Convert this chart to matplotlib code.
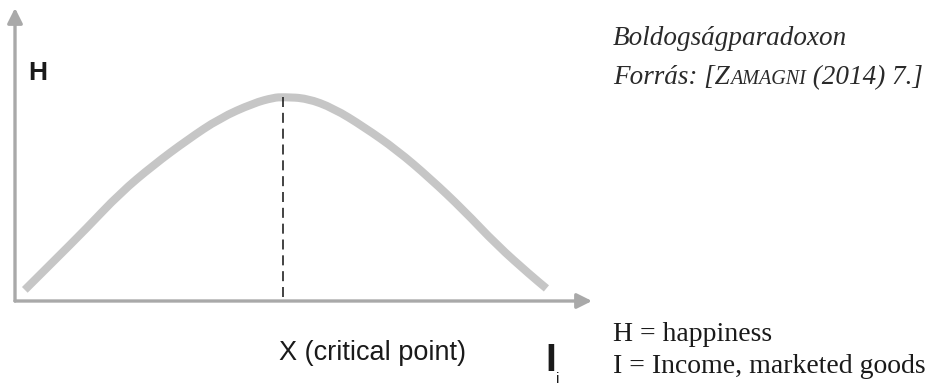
import numpy as np
import matplotlib
matplotlib.use('Agg')
import matplotlib.pyplot as plt
from matplotlib.path import Path
from matplotlib.patches import PathPatch

# happiness curve (income, happiness), both 0..100
income = [1.7, 6.6, 12.4, 18.2, 24.0, 29.8, 35.5, 41.3, 44.8, 46.5,
          50.6, 55.2, 60.4, 66.2, 71.9, 77.7, 83.5, 89.3, 92.1]
happiness = [3.8, 13.4, 24.8, 36.8, 46.4, 54.9, 62.4, 67.5, 69.4, 69.6,
             69.2, 65.8, 59.5, 51.5, 41.9, 31.1, 19.1, 8.9, 4.3]

title_txt = "Boldogságparadoxon"
source_parts = ["Forrás: [Z", "AMAGNI", " (2014) 7.]"]
legend_lines = ["H = happiness", "I = Income, marketed goods"]

W, H = 944, 384
fig = plt.figure(figsize=(W / 100, H / 100), dpi=100)

def fx(px):
    return px / W

def fy(py):
    return 1 - py / H

# axes: origin at pixel (15, 301), x-arrow to 592, y-arrow to 8
ax = fig.add_axes([fx(15), fy(301), (592 - 15) / W, (301 - 8) / H])
ax.set_xlim(0, 100)
ax.set_ylim(0, 100)
ax.axis('off')

axis_col = '#a9a9a9'
arr = dict(arrowstyle='-|>,head_length=0.6,head_width=0.3', color=axis_col,
           lw=2.4, mutation_scale=15, shrinkA=0, shrinkB=0)
ax.annotate('', xy=(100, 0), xytext=(0, 0), arrowprops=arr, annotation_clip=False)
ax.annotate('', xy=(0, 100), xytext=(0, 0), arrowprops=arr, annotation_clip=False)

# smooth curve: read points used as quadratic bezier controls
pts = np.column_stack([income, happiness])
verts = [pts[0], (pts[0] + pts[1]) / 2]
codes = [Path.MOVETO, Path.LINETO]
for k in range(1, len(pts) - 1):
    verts += [pts[k], (pts[k] + pts[k + 1]) / 2]
    codes += [Path.CURVE3, Path.CURVE3]
verts.append(pts[-1])
codes.append(Path.LINETO)
curve = PathPatch(Path(verts, codes), facecolor='none', edgecolor='#c6c6c6',
                  lw=5.8, capstyle='butt', joinstyle='round', zorder=2)
ax.add_patch(curve)

i_peak = int(np.argmax(happiness))
ax.plot([income[i_peak], income[i_peak]], [1.5, happiness[i_peak] + 1.2],
        color='#222222', lw=1.2, dashes=(6, 3.5), zorder=3)

sans = ['Liberation Sans', 'DejaVu Sans']
serif = ['Liberation Serif', 'DejaVu Serif']

fig.text(fx(28), fy(80), "H", family=sans,
         weight='bold', fontsize=19, color='#1a1a1a', va='baseline')
fig.text(fx(279), fy(360), "X (critical point)", family=sans,
         fontsize=19.5, color='#1a1a1a', va='baseline')
fig.text(fx(545), fy(371), "I", family=sans, weight='bold',
         fontsize=28, color='#1a1a1a', va='baseline')
fig.text(fx(556), fy(383), "i", family=sans,
         fontsize=11, color='#1a1a1a', va='baseline')

fig.text(fx(613), fy(45), title_txt, family=serif, style='italic',
         fontsize=19.5, color='#2a2a2a', va='baseline')

# source line with small caps for the author name
fig.canvas.draw()
r = fig.canvas.get_renderer()
x = fx(613)
sizes = [19.5, 14.5, 19.5]
for part, sz in zip(source_parts, sizes):
    t = fig.text(x, fy(84), part, family=serif, style='italic',
                 fontsize=sz, color='#2a2a2a', va='baseline')
    bb = t.get_window_extent(r)
    x = bb.x1 / W

fig.text(fx(613), fy(341), legend_lines[0], family=serif,
         fontsize=20, color='#1a1a1a', va='baseline')
fig.text(fx(613), fy(373), legend_lines[1], family=serif,
         fontsize=20, color='#1a1a1a', va='baseline')

fig.savefig('out.png', dpi=100)
